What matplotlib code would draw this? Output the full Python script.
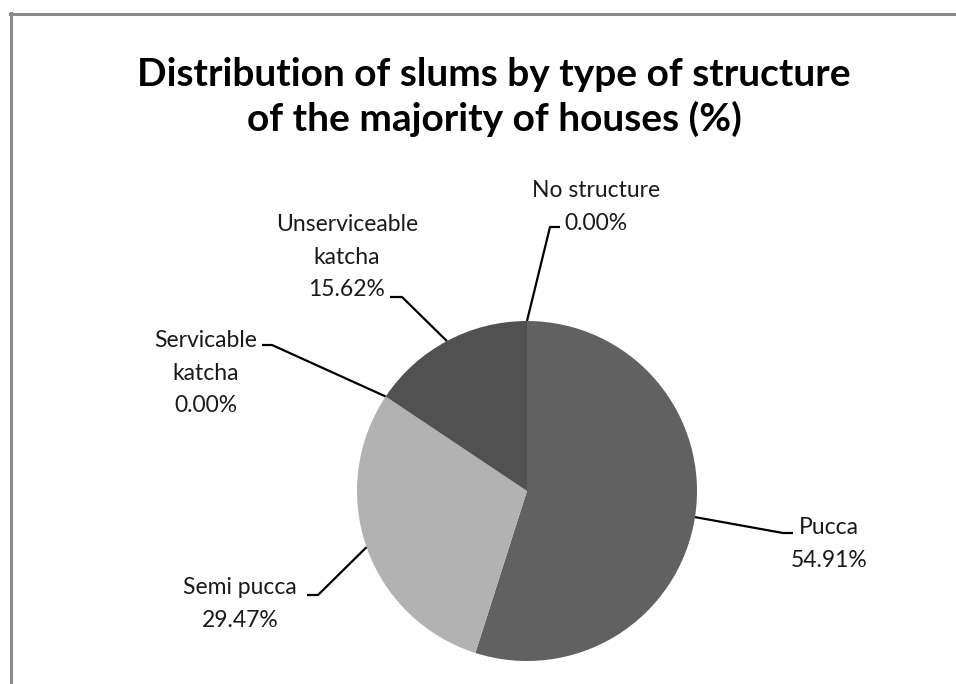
import matplotlib.pyplot as plt
from matplotlib.lines import Line2D
import numpy as np

categories = ["Pucca", "Semi pucca", "Servicable\nkatcha", "Unserviceable\nkatcha", "No structure"]
shares = [54.91, 29.47, 0.00, 15.62, 0.00]
colors = ["#616161", "#b2b2b2", "#d0d0d0", "#515151", "#888888"]

W, H = 956, 684
CX, CY, R = 527, H - 491, 170

# label layout: (text x, text y, ha, elbow x, elbow y, tail x) in pixels, y measured from top
layout = [
    (829, 544, "center", 783, 533, 793),
    (240, 604, "center", 318, 595, 307),
    (206, 373, "center", 272, 345, 262),
    (347, 257, "center", 402, 297, 390),
    (596, 207, "center", 550, 227, 560),
]

fig = plt.figure(figsize=(W / 100, H / 100), dpi=100)
ax = fig.add_axes([0, 0, 1, 1])
wedges, _ = ax.pie(shares, colors=colors, startangle=90, counterclock=False,
                   center=(CX, CY), radius=R, wedgeprops={"linewidth": 0})
ax.set_xlim(0, W)
ax.set_ylim(0, H)
ax.set_aspect("equal")
ax.axis("off")

for w, name, val, (tx, ty, ha, ex, ey, lx) in zip(wedges, categories, shares, layout):
    mid = np.deg2rad((w.theta1 + w.theta2) / 2)
    px, py = CX + R * np.cos(mid), CY + R * np.sin(mid)
    ax.plot([px, ex, lx], [py, H - ey, H - ey], color="black", lw=1.6,
            solid_capstyle="butt", zorder=3)
    ax.text(tx, H - ty, f"{name}\n{val:.2f}%", ha=ha, va="center",
            fontsize=16.5, family="Lato", color="#1a1a1a", linespacing=1.68)

fig.text(0.517, 1 - 97 / H, "Distribution of slums by type of structure\nof the majority of houses (%)",
         ha="center", va="center", fontsize=28, fontweight="bold", family="Lato",
         linespacing=1.3)

# chart frame (left and top edges)
fig.add_artist(Line2D([11 / W, 11 / W], [0, 1 - 13 / H], color="#8a8a8a", lw=2.2))
fig.add_artist(Line2D([10 / W, 1], [1 - 14 / H, 1 - 14 / H], color="#8a8a8a", lw=2.2))

fig.savefig("out.png", dpi=100)
